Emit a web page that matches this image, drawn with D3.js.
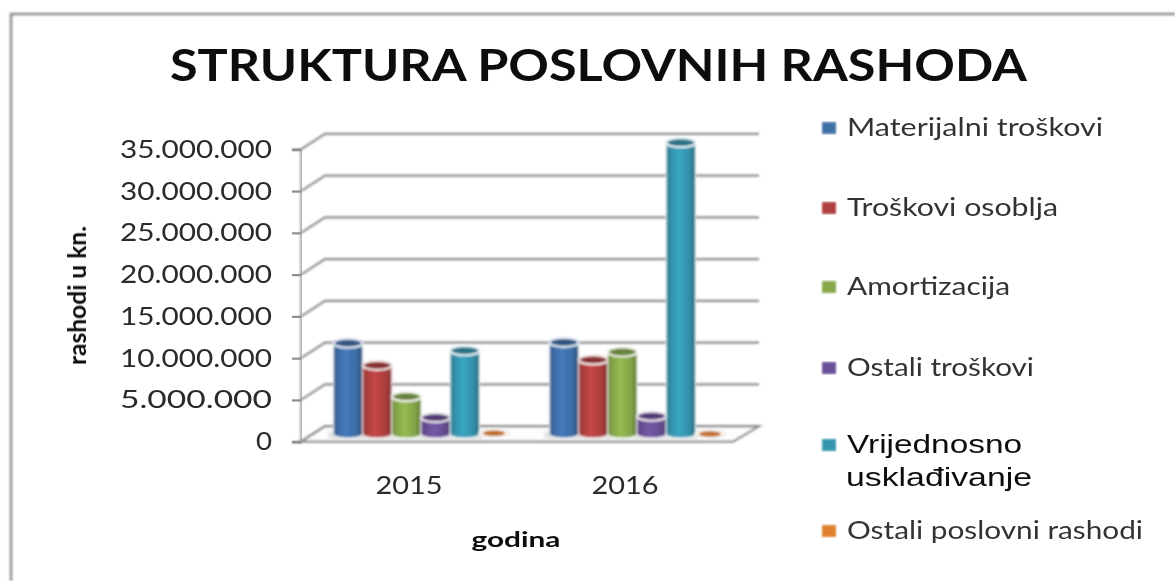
<!DOCTYPE html>
<html>
<head>
<meta charset="utf-8">
<script src="https://cdn.jsdelivr.net/npm/d3@7"></script>
<style>
html,body{margin:0;padding:0;background:#fff;}
svg{display:block;}
text{fill:#2b2b2b;font-family:Lato,"Open Sans",sans-serif;}
</style>
</head>
<body>
<div id="chart"></div>
<script>
// Values
var godine = ["2015", "2016"];
var materijalni = [10800000, 10900000];
var osoblje = [8150000, 8800000];
var amortizacija = [4400000, 9750000];
var ostaliTroskovi = [1900000, 2070000];
var uskladjivanje = [9900000, 34800000];
var ostaliRashodi = [150000, 50000];
var yTicks = [0, 5000000, 10000000, 15000000, 20000000, 25000000, 30000000, 35000000];
var seriesNames = ["Materijalni troškovi", "Troškovi osoblja", "Amortizacija", "Ostali troškovi", "Vrijednosno usklađivanje", "Ostali poslovni rashodi"];
var seriesValues = [materijalni, osoblje, amortizacija, ostaliTroskovi, uskladjivanje, ostaliRashodi];
var seriesColors = ["#3f6fa8", "#b0403f", "#86a84a", "#694f96", "#3494ae", "#e0812f"];

var width = 1175, height = 581;
var depthX = 24, depthY = -15.5; //offset of the back wall from the front plane

var svg = d3.select("#chart").append("svg").attr("width", width).attr("height", height);
var defs = svg.append("defs");

defs.append("filter").attr("id", "soft").attr("x", "-5%").attr("y", "-5%").attr("width", "110%").attr("height", "110%")
    .append("feGaussianBlur").attr("stdDeviation", 0.8);
defs.append("filter").attr("id", "softText").attr("x", "-5%").attr("y", "-20%").attr("width", "110%").attr("height", "140%")
    .append("feGaussianBlur").attr("stdDeviation", 0.6);
defs.append("filter").attr("id", "shadow").attr("x", "-20%").attr("y", "-100%").attr("width", "140%").attr("height", "300%")
    .append("feGaussianBlur").attr("stdDeviation", 2);

//Horizontal gradient that makes a bar look like a cylinder
seriesColors.forEach(function (c, i) {
    var g = defs.append("linearGradient").attr("id", "cyl" + i);
    var stops = [[0, d3.color(c).darker(0.7)], [0.12, d3.color(c).darker(0.15)], [0.42, d3.color(c).brighter(0.3)], [0.8, d3.color(c).darker(0.1)], [1, d3.color(c).darker(0.9)]];
    stops.forEach(function (s) {
        g.append("stop").attr("offset", s[0]).attr("stop-color", s[1].formatHex());
    });
});

var y = d3.scaleLinear().domain([0, 35000000]).range([441.7, 149.3]);
var x = d3.scaleBand().domain(godine).range([301, 733]);
var xSeries = d3.scaleBand().domain(d3.range(seriesNames.length)).range([0, x.bandwidth()]).paddingOuter(0.7).paddingInner(0);

var fmt = d3.formatLocale({decimal: ",", thousands: ".", grouping: [3], currency: ["", ""]}).format(",d");

//Frame of the picture, only top and left are visible
svg.append("path").attr("d", "M11,581V14H1175").attr("fill", "none").attr("stroke", "#8c8c8c").attr("stroke-width", 2.5).attr("filter", "url(#soft)");

//Walls, floor and gridlines
var walls = svg.append("g").attr("filter", "url(#soft)");
walls.append("path")
    .attr("d", "M301," + y(0) + "H733L" + (733 + depthX + 2) + "," + (y(0) + depthY) + "H" + (301 + depthX) + "Z")
    .attr("fill", "#fdfdfd").attr("stroke", "#8e8e8e").attr("stroke-width", 2.2);
walls.selectAll(".grid").data(yTicks).enter().append("path").attr("class", "grid")
    .attr("d", function (d) {
        return "M301," + y(d) + "L" + (301 + depthX) + "," + (y(d) + depthY) + "H759";
    })
    .attr("fill", "none").attr("stroke", "#8e8e8e").attr("stroke-width", 2.2);

var yAxis = d3.axisLeft(y).tickValues(yTicks).tickFormat(fmt).tickSize(9).tickPadding(20);
var yGroup = svg.append("g").attr("transform", "translate(301,0)").call(yAxis);
yGroup.select(".domain").attr("stroke", "#8e8e8e").attr("stroke-width", 2.2).attr("filter", "url(#soft)");
yGroup.selectAll(".tick line").attr("stroke", "#8e8e8e").attr("stroke-width", 2.2);
yGroup.selectAll(".tick text").attr("font-family", "Lato").attr("font-size", 25).attr("fill", "#333").attr("filter", "url(#softText)")
    .attr("textLength", function (d) { return d === 0 ? 16 : 152; }).attr("lengthAdjust", "spacingAndGlyphs");

var xAxis = d3.axisBottom(x).tickSize(0).tickPadding(35);
var xGroup = svg.append("g").attr("transform", "translate(0," + y(0) + ")").call(xAxis);
xGroup.select(".domain").remove();
xGroup.selectAll("text").attr("font-family", "Lato").attr("font-size", 25).attr("fill", "#333").attr("filter", "url(#softText)")
    .attr("textLength", 67).attr("lengthAdjust", "spacingAndGlyphs");

//Shadows on the floor, then one cylinder per value. Later bars sit on top of earlier ones
var rx = xSeries.bandwidth() / 2;
var ry = 4.5;
var baseY = y(0) + depthY / 2 - 0.5;
var bars = svg.append("g").attr("filter", "url(#soft)");

godine.forEach(function (g, gi) {
    var gx = x(g) + depthX / 2;
    bars.append("rect").attr("x", gx + xSeries(0) - 4).attr("y", baseY - 1).attr("width", xSeries.step() * 5 + 6).attr("height", 5)
        .attr("fill", "#c9c9c9").attr("filter", "url(#shadow)");
    seriesValues.forEach(function (vals, si) {
        var cx = gx + xSeries(si) + rx;
        var top = baseY - (y(0) - y(vals[gi]));
        var rw = rx;
        var c = seriesColors[si];
        if (vals[gi] < 1000000) {
            //the tiny bars are only a small disc on the floor
            bars.append("ellipse").attr("cx", cx).attr("cy", top + 1).attr("rx", rw + 1).attr("ry", ry - 0.5)
                .attr("fill", "#fbf3ea").attr("stroke", "#e8e8e8");
            bars.append("ellipse").attr("cx", cx).attr("cy", top + 1).attr("rx", 11).attr("ry", 2.8)
                .attr("fill", d3.color(c).darker(0.4).formatHex());
            return;
        }
        bars.append("path")
            .attr("d", "M" + (cx - rw) + "," + top + "V" + baseY + "A" + rw + "," + ry + " 0 0 0 " + (cx + rw) + "," + baseY + "V" + top + "Z")
            .attr("fill", "url(#cyl" + si + ")").attr("stroke", d3.interpolateRgb(c, "#fff")(0.78)).attr("stroke-width", 1.2);
        bars.append("ellipse").attr("cx", cx).attr("cy", top).attr("rx", rw).attr("ry", ry)
            .attr("fill", d3.color(c).darker(0.7).formatHex())
            .attr("stroke", d3.interpolateRgb(c, "#fff")(0.85)).attr("stroke-width", 2.2);
    });
});

//Title and axis names
svg.append("text").attr("x", 598.5).attr("y", 81).attr("text-anchor", "middle")
    .attr("font-size", 43).attr("font-weight", 700).style("fill", "#111").attr("filter", "url(#softText)")
    .attr("textLength", 857).attr("lengthAdjust", "spacingAndGlyphs").text("STRUKTURA POSLOVNIH RASHODA");
svg.append("text").attr("x", 516).attr("y", 547).attr("text-anchor", "middle")
    .attr("font-size", 21).attr("font-weight", 700).style("fill", "#111").attr("filter", "url(#softText)")
    .attr("textLength", 89).attr("lengthAdjust", "spacingAndGlyphs").text("godina");
svg.append("text").attr("transform", "translate(86,295.5) rotate(-90)").attr("text-anchor", "middle")
    .attr("font-size", 25).attr("font-weight", 700).style("fill", "#111").attr("filter", "url(#softText)")
    .attr("textLength", 139).attr("lengthAdjust", "spacingAndGlyphs").text("rashodi u kn.");

//Legend, the fifth entry wraps on two lines and uses another font as in the original
var legendY = [128, 208, 287, 368, 445, 531];
var legendWidth = [256, 211, 163, 187, 175, 296];
var legend = svg.selectAll(".legend").data(seriesNames).enter().append("g").attr("class", "legend");
legend.append("rect").attr("x", 822).attr("y", function (d, i) { return legendY[i] - 6; })
    .attr("width", 14).attr("height", 12).attr("fill", function (d, i) { return seriesColors[i]; }).attr("filter", "url(#soft)");
legend.append("text").attr("x", 847).attr("y", function (d, i) { return legendY[i] + 8; })
    .attr("font-size", 25).attr("fill", "#333").attr("filter", "url(#softText)")
    .attr("textLength", function (d, i) { return legendWidth[i]; }).attr("lengthAdjust", "spacingAndGlyphs")
    .style("font-family", function (d, i) { return i === 4 ? "Liberation Sans" : "Lato"; })
    .style("fill", function (d, i) { return i === 4 ? "#111" : "#333"; })
    .text(function (d, i) { return i === 4 ? "Vrijednosno" : d; });
svg.append("text").attr("x", 846).attr("y", 486).attr("font-size", 25).style("font-family", "Liberation Sans").style("fill", "#111")
    .attr("filter", "url(#softText)").attr("textLength", 186).attr("lengthAdjust", "spacingAndGlyphs").text("usklađivanje");
</script>
</body>
</html>
